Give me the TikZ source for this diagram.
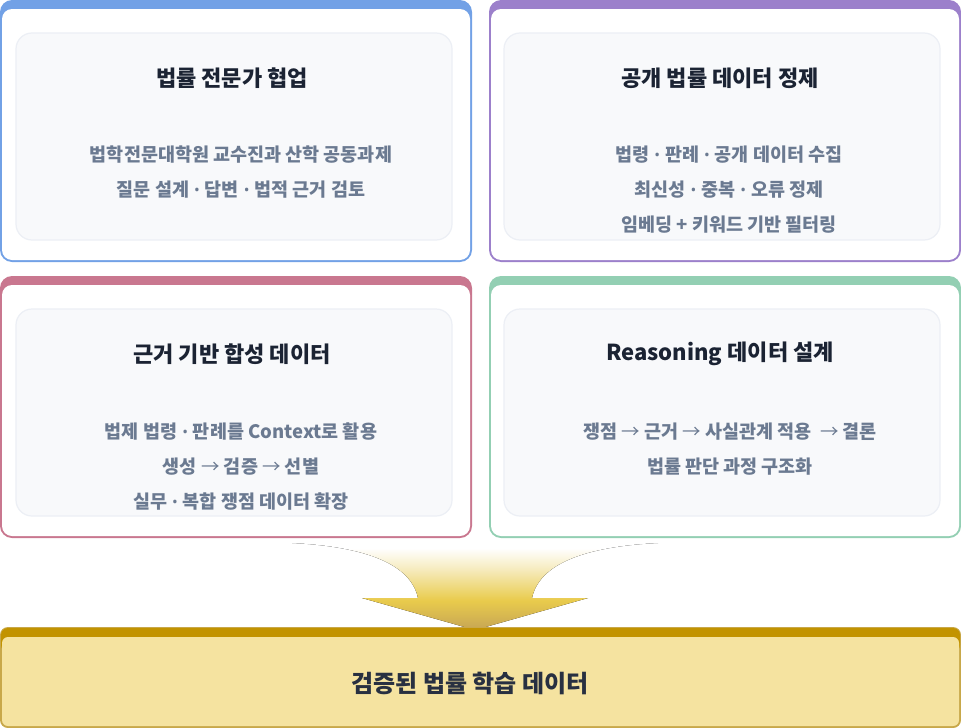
\documentclass[tikz,border=0pt]{standalone}
\usepackage{fontspec}
\newfontfamily\kr{Noto Sans CJK KR}
\newfontfamily\lat{Noto Sans}
\newcommand{\md}{\raisebox{-2.6pt}{\lat\bfseries\fontsize{27}{35}\selectfont ·}}
\newcommand{\ar}{{\mdseries →}}
\usetikzlibrary{positioning}
\definecolor{cardblue}{HTML}{72A1E6}
\definecolor{cardpurple}{HTML}{9C80CB}
\definecolor{cardpink}{HTML}{C9778F}
\definecolor{cardgreen}{HTML}{93CFB3}
\definecolor{panelfill}{HTML}{F8F9FB}
\definecolor{paneledge}{HTML}{ECEFF5}
\definecolor{titlegray}{HTML}{1B2333}
\definecolor{bodygray}{HTML}{6B7A91}
\definecolor{goldbar}{HTML}{C29300}
\definecolor{goldedge}{HTML}{C8A84A}
\definecolor{goldcream}{HTML}{F5E3A0}
\definecolor{goldtext}{HTML}{283041}
\definecolor{funneltip}{HTML}{C6A555}
\definecolor{funnelyellow}{HTML}{E9CB4C}
\definecolor{funnelpale}{HTML}{F6EBBE}
\pgfdeclareverticalshading{funnelshade}{100bp}{color(0bp)=(funneltip); color(25bp)=(funneltip); color(42bp)=(funnelyellow); color(60bp)=(funnelpale); color(72bp)=(white); color(100bp)=(white)}

\begin{document}
\begin{tikzpicture}[x=1pt, y=-1pt,
    card/.style={rectangle, rounded corners=12pt, minimum width=472pt, minimum height=262pt, inner sep=0pt},
    cardin/.style={rectangle, fill=white, rounded corners=10pt, minimum width=468pt, minimum height=251pt, inner sep=0pt},
    panel/.style={rectangle, fill=panelfill, draw=paneledge, line width=1.2pt, rounded corners=16pt, minimum width=436pt, minimum height=207pt, inner sep=0pt},
    ttl/.style={font=\kr\bfseries\fontsize{22}{26}\selectfont, text=titlegray},
    body/.style={font=\kr\bfseries\fontsize{18.5}{35}\selectfont, text=bodygray, align=center}
]
\useasboundingbox (0,0) rectangle (961,728);

% Card 1: experts
\node[card, fill=cardblue] (c1) at (236,131) {};
\node[cardin] (c1in) at (236,134.5) {};
\node[panel] (p1) at (234,136.5) {};
\node[ttl] (t1) at (232,78) {법률 전문가 협업};
\node[body] (b1) at (241,172.5) {법학전문대학원 교수진과 산학 공동과제\\질문 설계 \md{} 답변 \md{} 법적 근거 검토};

% Card 2: public data
\node[card, fill=cardpurple] (c2) at (725,131) {};
\node[cardin] (c2in) at (725,134.5) {};
\node[panel] (p2) at (722,136.5) {};
\node[ttl] (t2) at (720,78) {공개 법률 데이터 정제};
\node[body] (b2) at (729,190) {법령 \md{} 판례 \md{} 공개 데이터 수집\\최신성 \md{} 중복 \md{} 오류 정제\\임베딩 + 키워드 기반 필터링};

% Card 3: synthetic data
\node[card, fill=cardpink] (c3) at (236,407) {};
\node[cardin] (c3in) at (236,410.5) {};
\node[panel] (p3) at (234,412.5) {};
\node[ttl] (t3) at (232,354) {근거 기반 합성 데이터};
\node[body] (b3) at (241,467) {법제 법령 \md{} 판례를 Context로 활용\\생성 \ar{} 검증 \ar{} 선별\\실무 \md{} 복합 쟁점 데이터 확장};

% Card 4: reasoning
\node[card, fill=cardgreen] (c4) at (725,407) {};
\node[cardin] (c4in) at (725,410.5) {};
\node[panel] (p4) at (722,412.5) {};
\node[ttl] (t4) at (720,354) {Reasoning 데이터 설계};
\node[body] (b4) at (730,449.5) {쟁점 \ar{} 근거 \ar{} 사실관계 적용 \ \ar{} 결론\\법률 판단 과정 구조화};

% Funnel arrow
\fill[shading=funnelshade] (292,543) .. controls (355,546) and (410,560) .. (418,598) -- (362,598) -- (475,630) -- (588,598) -- (532,598) .. controls (540,560) and (595,546) .. (658,543) -- cycle;

% Result
\node[rectangle, fill=goldedge, rounded corners=8pt, minimum width=961pt, minimum height=101pt, inner sep=0pt] (res) at (480.5,677.5) {};
\node[rectangle, fill=goldbar, rounded corners=7pt, minimum width=959pt, minimum height=24pt, inner sep=0pt] (resbar) at (480.5,640) {};
\node[rectangle, fill=goldcream, rounded corners=6pt, minimum width=957pt, minimum height=89pt, inner sep=0pt] (resin) at (480.5,681.5) {};
\node[font=\kr\bfseries\fontsize{24}{28}\selectfont, text=goldtext] (rest) at (470,683) {검증된 법률 학습 데이터};
\end{tikzpicture}
\end{document}
